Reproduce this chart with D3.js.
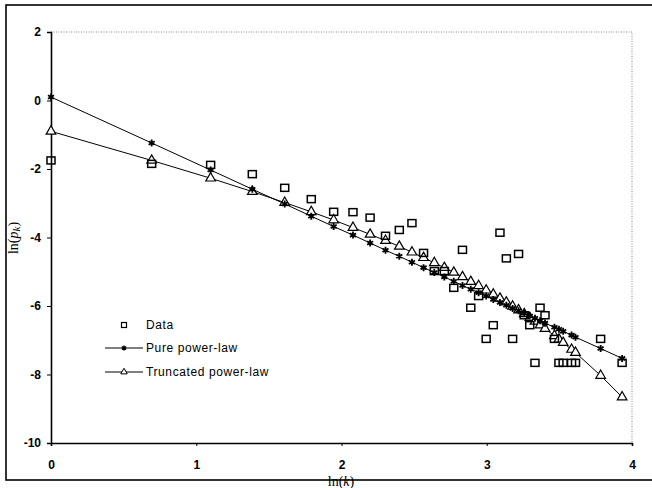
<!DOCTYPE html>
<html>
<head>
<meta charset="utf-8">
<script src="https://cdn.jsdelivr.net/npm/d3@7"></script>
<style>
  body { margin: 0; background: #fff; }
  svg { display: block; }
  .tick text { font-family: Arial, "Liberation Sans", sans-serif; font-size: 12px; fill: #000; }
</style>
</head>
<body>
<div id="chart"></div>
<script>
// ln(k) for every degree that has observations
const lnK = [0, 0.693, 1.099, 1.386, 1.609, 1.792, 1.946, 2.079, 2.197, 2.303,
    2.398, 2.485, 2.565, 2.639, 2.708, 2.773, 2.833, 2.890, 2.944, 2.996,
    3.045, 3.091, 3.135, 3.178, 3.219, 3.258, 3.296, 3.332, 3.367, 3.401,
    3.466, 3.497, 3.526, 3.584, 3.611, 3.784, 3.932];

// observed ln(pk)
const dataVals = [-1.75, -1.85, -1.88, -2.15, -2.55, -2.88, -3.25, -3.26, -3.42, -3.95,
    -3.78, -3.58, -4.45, -4.98, -4.98, -5.47, -4.36, -6.05, -5.71, -6.96,
    -6.56, -3.86, -4.61, -6.96, -4.48, -6.27, -6.56, -7.66, -6.05, -6.27,
    -6.96, -7.66, -7.66, -7.66, -7.66, -6.96, -7.66];

// fitted curves
const pureVals = [0.10, -1.24, -2.03, -2.59, -3.02, -3.38, -3.68, -3.93, -4.16, -4.37,
    -4.55, -4.72, -4.88, -5.02, -5.15, -5.28, -5.40, -5.51, -5.61, -5.71,
    -5.81, -5.90, -5.98, -6.07, -6.14, -6.22, -6.29, -6.36, -6.43, -6.50,
    -6.62, -6.68, -6.74, -6.85, -6.91, -7.24, -7.53];

const truncVals = [-0.90, -1.75, -2.27, -2.66, -2.98, -3.25, -3.49, -3.71, -3.91, -4.09,
    -4.26, -4.43, -4.59, -4.74, -4.88, -5.02, -5.15, -5.29, -5.41, -5.54,
    -5.66, -5.78, -5.89, -6.01, -6.12, -6.23, -6.34, -6.45, -6.56, -6.66,
    -6.87, -6.97, -7.07, -7.27, -7.36, -8.03, -8.66];

const xTicks = [0, 1, 2, 3, 4];
const yTicks = [2, 0, -2, -4, -6, -8, -10];
const legendLabels = ["Data", "Pure power-law", "Truncated power-law"];

const W = 652, H = 488;

const svg = d3.select("#chart").append("svg")
    .attr("width", W)
    .attr("height", H);

// outer frame
svg.append("rect")
    .attr("x", 6).attr("y", 5)
    .attr("width", 700).attr("height", 475)
    .attr("fill", "none")
    .attr("stroke", "#000")
    .attr("stroke-width", 1.6);

const x = d3.scaleLinear().domain([0, 4]).range([51, 632]);
const y = d3.scaleLinear().domain([-10, 2]).range([443, 32]);

// dotted plot area border (top and right)
svg.append("path")
    .attr("d", `M${x(0)},${y(2)}H${x(4)}V${y(-10)}`)
    .attr("fill", "none")
    .attr("stroke", "#888")
    .attr("stroke-width", 1)
    .attr("stroke-dasharray", "1,1.5");

// axes
const yAxis = svg.append("g")
    .attr("transform", `translate(${x(0)},0)`)
    .call(d3.axisLeft(y).tickValues(yTicks).tickSize(4).tickPadding(6).tickFormat(d => String(d)));
yAxis.select(".domain").attr("stroke-width", 1.6);

const xAxis = svg.append("g")
    .attr("transform", `translate(0,${y(-10)})`)
    .call(d3.axisBottom(x).tickValues(xTicks).tickSize(3).tickFormat(d => String(d)));
xAxis.select(".domain").attr("stroke-width", 1.6);
xAxis.selectAll("text").attr("y", 17);

svg.selectAll(".tick text").style("font-weight", "bold");

// series
const pts = lnK.map((k, i) => ({k: k, data: dataVals[i], pure: pureVals[i], trunc: truncVals[i]}));

const line = key => d3.line().x(d => x(d.k)).y(d => y(d[key]));

svg.append("path").datum(pts)
    .attr("d", line("pure"))
    .attr("fill", "none").attr("stroke", "#000").attr("stroke-width", 1);

svg.append("path").datum(pts)
    .attr("d", line("trunc"))
    .attr("fill", "none").attr("stroke", "#000").attr("stroke-width", 1);

const tri = d3.symbol().type(d3.symbolTriangle).size(40);
const star = d3.symbol().type(d3.symbolAsterisk).size(34);

svg.selectAll("path.tri")
    .data(pts).enter()
    .append("path")
    .attr("class", "tri")
    .attr("d", tri)
    .attr("transform", d => `translate(${x(d.k)},${y(d.trunc)})`)
    .attr("fill", "#fff")
    .attr("stroke", "#000")
    .attr("stroke-width", 1.2);

svg.selectAll("path.star")
    .data(pts).enter()
    .append("path")
    .attr("class", "star")
    .attr("d", star)
    .attr("transform", d => `translate(${x(d.k)},${y(d.pure)})`)
    .attr("fill", "none")
    .attr("stroke", "#000")
    .attr("stroke-width", 1.8);

svg.selectAll("rect.data")
    .data(pts).enter()
    .append("rect")
    .attr("class", "data")
    .attr("x", d => x(d.k) - 4)
    .attr("y", d => y(d.data) - 3.5)
    .attr("width", 8)
    .attr("height", 7)
    .attr("fill", "none")
    .attr("stroke", "#000")
    .attr("stroke-width", 1.5);

// legend
const legend = svg.append("g").attr("class", "legend");
const rows = [325, 348, 372];

legend.append("rect")
    .attr("x", 121.5).attr("y", rows[0] - 2.5)
    .attr("width", 5).attr("height", 5)
    .attr("fill", "none").attr("stroke", "#000").attr("stroke-width", 1.2);

[1, 2].forEach(i => {
    legend.append("line")
        .attr("x1", 105).attr("x2", 143)
        .attr("y1", rows[i]).attr("y2", rows[i])
        .attr("stroke", "#000").attr("stroke-width", 1);
});
legend.append("path")
    .attr("d", d3.symbol().type(d3.symbolAsterisk).size(18))
    .attr("transform", `translate(124,${rows[1]})`)
    .attr("stroke", "#000").attr("stroke-width", 1.4);
legend.append("path")
    .attr("d", d3.symbol().type(d3.symbolTriangle).size(18))
    .attr("transform", `translate(124,${rows[2]})`)
    .attr("fill", "#fff").attr("stroke", "#000").attr("stroke-width", 1);

legend.selectAll("text")
    .data(legendLabels).enter()
    .append("text")
    .attr("x", 146)
    .attr("y", (d, i) => rows[i])
    .attr("dy", "0.35em")
    .attr("font-family", "Arial, 'Liberation Sans', sans-serif")
    .attr("font-size", "12px")
    .attr("letter-spacing", "0.6px")
    .text(d => d);

// axis titles
const xt = svg.append("text")
    .attr("x", 341).attr("y", 486)
    .attr("text-anchor", "middle")
    .attr("font-family", "'Liberation Serif', 'Times New Roman', serif")
    .attr("font-size", "14px");
xt.append("tspan").text("ln(");
xt.append("tspan").attr("font-style", "italic").text("k");
xt.append("tspan").text(")");

const yt = svg.append("text")
    .attr("transform", "translate(18,238) rotate(-90)")
    .attr("text-anchor", "middle")
    .attr("font-family", "'Liberation Serif', 'Times New Roman', serif")
    .attr("font-size", "14px");
yt.append("tspan").text("ln(");
yt.append("tspan").attr("font-style", "italic").text("p");
yt.append("tspan").attr("font-style", "italic").attr("font-size", "11px").attr("dy", 2).text("k");
yt.append("tspan").attr("dy", -2).text(")");
</script>
</body>
</html>
